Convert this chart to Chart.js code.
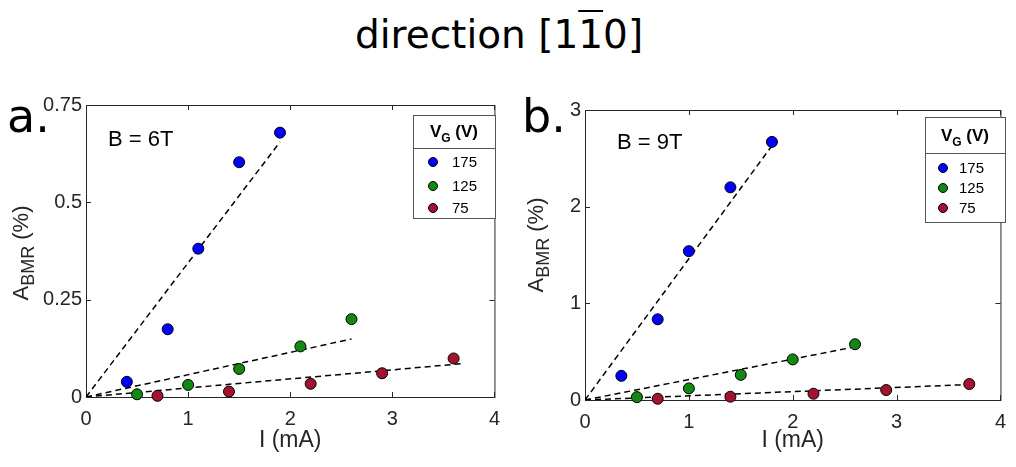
<!DOCTYPE html>
<html>
<head>
<meta charset="utf-8">
<script src="https://cdn.jsdelivr.net/npm/chart.js@4.4.1/dist/chart.umd.min.js"></script>
<style>
  body { margin: 0; width: 1016px; height: 467px; background: #fff; position: relative; overflow: hidden; font-family: "DejaVu Sans", sans-serif; }
  #title { position: absolute; left: -9px; width: 1016px; top: 15px; text-align: center; font-size: 39px; line-height: 1; color: #000; }
  .bar { text-decoration: overline; text-decoration-thickness: 2px; }
  .panel { position: absolute; top: 93px; font-size: 46px; line-height: 1; color: #000; }
  canvas { position: absolute; top: 0; }
</style>
</head>
<body>
<div id="title">direction [1<span class="bar">1</span>0]</div>
<canvas id="chartA" width="510" height="467" style="left:0"></canvas>
<canvas id="chartB" width="506" height="467" style="left:510px"></canvas>
<div class="panel" style="left:7px">a.</div>
<div class="panel" style="left:522px">b.</div>
<script>
// ticks
const xTicks = [0, 1, 2, 3, 4];
const yTicksA = [0, 0.25, 0.5, 0.75];
const yTicksB = [0, 1, 2, 3];

// legend labels (V_G in V)
const gateLabels = ['175', '125', '75'];

// panel a, B = 6T : current (mA) and A_BMR (%)
const iA175 = [0.4, 0.8, 1.1, 1.5, 1.9];
const aA175 = [0.039, 0.174, 0.381, 0.603, 0.679];
const iA125 = [0.5, 1.0, 1.5, 2.1, 2.6];
const aA125 = [0.007, 0.031, 0.072, 0.130, 0.200];
const iA75 = [0.7, 1.4, 2.2, 2.9, 3.6];
const aA75 = [0.003, 0.014, 0.034, 0.061, 0.099];
// linear fits through origin, end points
const fitEndIA = [1.9, 2.6, 3.7];
const fitEndAA = [0.655, 0.149, 0.086];

// panel b, B = 9T
const iB175 = [0.35, 0.7, 1.0, 1.4, 1.8];
const aB175 = [0.25, 0.835, 1.54, 2.2, 2.67];
const iB125 = [0.5, 1.0, 1.5, 2.0, 2.6];
const aB125 = [0.03, 0.12, 0.26, 0.42, 0.577];
const iB75 = [0.7, 1.4, 2.2, 2.9, 3.7];
const aB75 = [0.013, 0.034, 0.065, 0.103, 0.165];
const fitEndIB = [1.8, 2.6, 3.7];
const fitEndAB = [2.63, 0.55, 0.16];

const colors = ['#0000ff', '#118811', '#a31330'];
const axisColor = '#262626';
const FONT = '"Liberation Sans", Arial, sans-serif';

const toPts = (xs, ys) => xs.map((x, i) => ({ x, y: ys[i] }));

// box, inward ticks, y title and field label
const frame = {
  id: 'frame',
  beforeDatasetsDraw(chart, args, o) {
    const { ctx, chartArea: a, scales: { x, y } } = chart;
    ctx.save();
    ctx.strokeStyle = axisColor;
    ctx.lineWidth = 1;
    ctx.strokeRect(a.left + 0.5, a.top + 0.5, a.right - a.left, a.bottom - a.top);
    ctx.beginPath();
    x.ticks.forEach(t => {
      const px = Math.round(x.getPixelForValue(t.value)) + 0.5;
      ctx.moveTo(px, a.bottom); ctx.lineTo(px, a.bottom - 5);
      ctx.moveTo(px, a.top); ctx.lineTo(px, a.top + 5);
    });
    y.ticks.forEach(t => {
      const py = Math.round(y.getPixelForValue(t.value)) + 0.5;
      ctx.moveTo(a.left, py); ctx.lineTo(a.left + 5, py);
      ctx.moveTo(a.right, py); ctx.lineTo(a.right - 5, py);
    });
    ctx.stroke();

    // y axis title A_BMR (%)
    ctx.fillStyle = axisColor;
    ctx.textBaseline = 'alphabetic';
    const big = '22px ' + FONT, sub = '18px ' + FONT;
    ctx.font = big;
    const wA = ctx.measureText('A').width, wP = ctx.measureText(' (%)').width;
    ctx.font = sub;
    const wS = ctx.measureText('BMR').width;
    ctx.translate(o.yTitleX, o.yTitleY);
    ctx.rotate(-Math.PI / 2);
    let tx = -(wA + wS + wP) / 2;
    ctx.font = big; ctx.fillText('A', tx, 0); tx += wA;
    ctx.font = sub; ctx.fillText('BMR', tx, 6); tx += wS;
    ctx.font = big; ctx.fillText(' (%)', tx, 0);
    ctx.restore();

    ctx.save();
    ctx.fillStyle = '#000';
    ctx.font = '22px ' + FONT;
    ctx.textBaseline = 'middle';
    ctx.fillText(o.field, o.fieldX, o.fieldY);
    ctx.restore();
  }
};

// boxed legend with V_G (V) title
const vgLegend = {
  id: 'vgLegend',
  afterDraw(chart, args, o) {
    const { ctx } = chart;
    ctx.save();
    ctx.fillStyle = '#fff';
    ctx.fillRect(o.x, o.y, o.w, o.h);
    ctx.strokeStyle = '#555';
    ctx.lineWidth = 1;
    ctx.strokeRect(o.x + 0.5, o.y + 0.5, o.w, o.h);
    ctx.beginPath();
    ctx.moveTo(o.x, o.sep + 0.5); ctx.lineTo(o.x + o.w, o.sep + 0.5);
    ctx.stroke();

    ctx.fillStyle = '#000';
    ctx.textBaseline = 'alphabetic';
    const f1 = 'bold 17px ' + FONT, f2 = 'bold 12px ' + FONT;
    ctx.font = f1;
    const wV = ctx.measureText('V').width, wR = ctx.measureText(' (V)').width;
    ctx.font = f2;
    const wG = ctx.measureText('G').width;
    let tx = o.x + o.w / 2 - (wV + wG + wR) / 2;
    ctx.font = f1; ctx.fillText('V', tx, o.titleY); tx += wV;
    ctx.font = f2; ctx.fillText('G', tx, o.titleY + 5); tx += wG;
    ctx.font = f1; ctx.fillText(' (V)', tx, o.titleY);

    chart.data.datasets.filter(d => !d.fit).forEach((d, i) => {
      const cy = o.rows[i];
      ctx.beginPath();
      ctx.arc(o.x + o.markX, cy, 4.5, 0, Math.PI * 2);
      ctx.fillStyle = d.backgroundColor;
      ctx.fill();
      ctx.strokeStyle = '#000';
      ctx.stroke();
      ctx.fillStyle = '#000';
      ctx.font = '15px ' + FONT;
      ctx.textBaseline = 'middle';
      ctx.fillText(d.label, o.x + o.textX, cy + 1);
    });
    ctx.restore();
  }
};

function makeChart(id, series, fitI, fitA, yTicks, yMax, cfg) {
  const datasets = series.map((s, k) => ({
    label: gateLabels[k],
    data: toPts(s[0], s[1]),
    backgroundColor: colors[k],
    borderColor: '#000',
    borderWidth: 1,
    pointRadius: 5.5,
    clip: false,
    order: 0
  }));
  fitI.forEach((xe, k) => datasets.push({
    fit: true,
    data: [{ x: 0, y: 0 }, { x: xe, y: fitA[k] }],
    showLine: true,
    borderColor: '#000',
    borderWidth: 1.5,
    borderDash: [6, 4],
    pointRadius: 0,
    order: 1
  }));
  return new Chart(document.getElementById(id), {
    type: 'scatter',
    data: { datasets },
    plugins: [frame, vgLegend],
    options: {
      responsive: false,
      animation: false,
      devicePixelRatio: 1,
      layout: { padding: cfg.padding },
      plugins: {
        legend: { display: false },
        tooltip: { enabled: false },
        frame: cfg.frame,
        vgLegend: cfg.legend
      },
      scales: {
        x: {
          type: 'linear', min: 0, max: 4,
          afterBuildTicks: s => { s.ticks = xTicks.map(v => ({ value: v })); },
          afterFit: s => { s.height = cfg.xHeight; },
          ticks: { color: axisColor, font: { family: FONT, size: 20 }, padding: 10, callback: v => String(v) },
          grid: { display: false, drawTicks: false },
          border: { display: false },
          title: { display: true, text: 'I (mA)', color: axisColor, font: { family: FONT, size: 23 }, padding: { top: 0, bottom: 13 } }
        },
        y: {
          type: 'linear', min: 0, max: yMax,
          afterBuildTicks: s => { s.ticks = yTicks.map(v => ({ value: v })); },
          afterFit: s => { s.width = cfg.yWidth; },
          ticks: { color: axisColor, font: { family: FONT, size: 20 }, padding: 4, callback: v => String(v) },
          grid: { display: false, drawTicks: false },
          border: { display: false }
        }
      }
    }
  });
}

makeChart('chartA',
  [[iA175, aA175], [iA125, aA125], [iA75, aA75]],
  fitEndIA, fitEndAA, yTicksA, 0.75, {
    padding: { left: 0, right: 11, top: 105, bottom: 0 },
    xHeight: 70, yWidth: 86,
    frame: { yTitleX: 28, yTitleY: 253, field: 'B = 6T', fieldX: 108, fieldY: 140 },
    legend: { x: 413, y: 115, w: 82, h: 103, sep: 148, titleY: 137, rows: [162, 186, 208], markX: 20, textX: 39 }
  });

makeChart('chartB',
  [[iB175, aB175], [iB125, aB125], [iB75, aB75]],
  fitEndIB, fitEndAB, yTicksB, 3, {
    padding: { left: 0, right: 9, top: 110, bottom: 0 },
    xHeight: 67, yWidth: 75,
    frame: { yTitleX: 33, yTitleY: 245, field: 'B = 9T', fieldX: 107, fieldY: 143 },
    legend: { x: 415, y: 117, w: 80, h: 105, sep: 153, titleY: 141, rows: [168, 188, 208], markX: 18, textX: 34 }
  });
</script>
</body>
</html>
